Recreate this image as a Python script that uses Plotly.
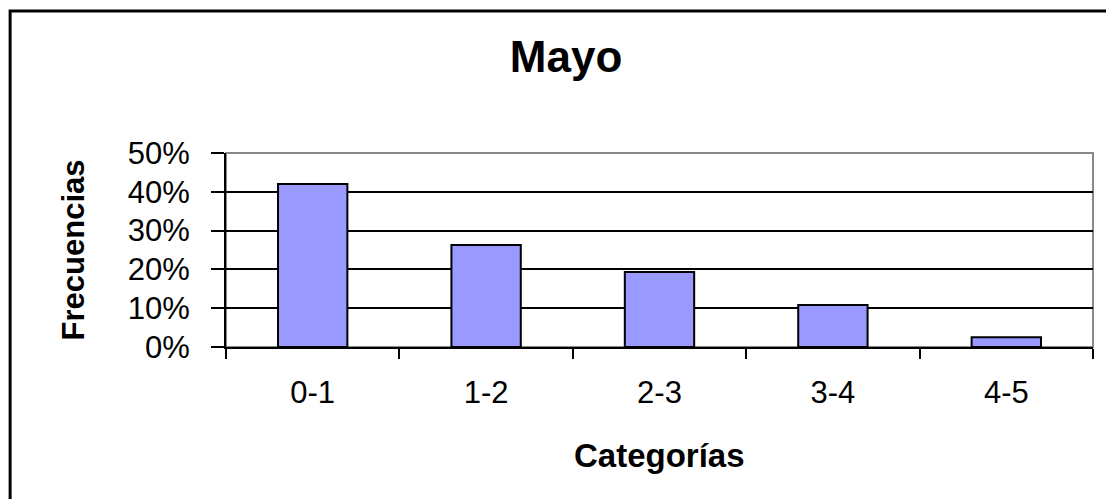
import plotly.graph_objects as go

categorias = ["0-1", "1-2", "2-3", "3-4", "4-5"]
frecuencias = [0.42, 0.263, 0.193, 0.108, 0.025]
y_ticks = [0, 0.1, 0.2, 0.3, 0.4, 0.5]

FONT = "Liberation Sans, Arial, sans-serif"

fig = go.Figure()
fig.add_trace(go.Bar(
    x=categorias,
    y=frecuencias,
    marker=dict(color="#9999FF", line=dict(color="black", width=2)),
    showlegend=False,
))

# plot frame: grey top/right, black axes drawn on top
fig.add_shape(type="rect", xref="paper", yref="paper", x0=0, x1=1, y0=0, y1=1,
              line=dict(color="#888888", width=2), layer="below")
# outer chart border (only left/top visible in the picture)
fig.add_shape(type="rect", xref="paper", yref="paper", x0=-0.249, x1=1.3, y0=-1.2, y1=1.732,
              line=dict(color="black", width=3), layer="below")

fig.add_annotation(text="<b>Categorías</b>", xref="paper", yref="paper",
                   x=0.5, y=-0.557, showarrow=False, yanchor="middle",
                   font=dict(family=FONT, size=33, color="black"))
fig.add_annotation(text="<b>Frecuencias</b>", xref="paper", yref="paper",
                   x=-0.176, y=0.5, showarrow=False, textangle=-90, xanchor="center",
                   font=dict(family=FONT, size=31, color="black"))

fig.update_layout(
    width=1114,
    height=499,
    autosize=False,
    margin=dict(l=218, r=29, t=145, b=160),
    paper_bgcolor="white",
    plot_bgcolor="white",
    bargap=0.6,
    font=dict(family=FONT, color="black"),
    title=dict(text="<b>Mayo</b>", x=0.501, xanchor="center", y=0.902, yanchor="middle",
               xref="container", yref="container",
               font=dict(family=FONT, size=44, color="black")),
)

fig.update_xaxes(
    showline=True, linecolor="black", linewidth=2,
    ticks="outside", tickson="boundaries", ticklen=10, tickwidth=2, tickcolor="black",
    tickfont=dict(family=FONT, size=31, color="black"),
    ticklabelstandoff=17,
    showgrid=False,
)
fig.update_yaxes(
    range=[0, 0.5], tickvals=y_ticks, tickformat=".0%",
    showline=True, linecolor="black", linewidth=2,
    ticks="outside", ticklen=13, tickwidth=2, tickcolor="black",
    tickfont=dict(family=FONT, size=31, color="black"),
    ticklabelstandoff=15,
    showgrid=True, gridcolor="black", gridwidth=2,
    zeroline=False,
)

fig.write_html("out.html")
